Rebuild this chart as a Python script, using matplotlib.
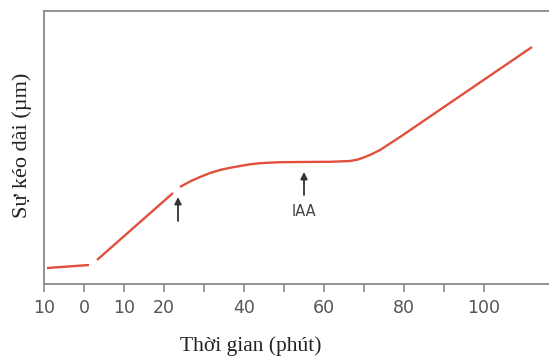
import matplotlib
matplotlib.use("Agg")
import matplotlib.pyplot as plt

# Growth curve (x in minutes, y in arbitrary units)
seg1_x = [-9.25, 1.25]
seg1_y = [1.6, 1.9]

seg2_x = [3.25, 22.25]
seg2_y = [2.4, 9.1]

seg3_x = [24.0, 26.5, 29.0, 31.5, 34.0, 36.5, 39.0, 41.5, 44.0, 49.0, 54.0,
          61.5, 66.5, 68.5, 70.25, 72.0, 74.0, 76.5, 79.0, 112.0]
seg3_y = [9.7, 10.25, 10.7, 11.1, 11.4, 11.62, 11.8, 11.97, 12.08, 12.18, 12.2,
          12.22, 12.3, 12.45, 12.7, 13.0, 13.4, 14.05, 14.7, 23.7]

# arrows: (x, tip y, base y)
arrow_x = [23.5, 55.0]
arrow_tip = [8.7, 11.2]
arrow_base = [6.3, 8.9]
iaa_label = "IAA"

xticks = [-10, 0, 10, 20, 30, 40, 50, 60, 70, 80, 90, 100]
xtick_labels = ["10", "0", "10", "20", "", "40", "", "60", "", "80", "", "100"]

RED = "#e0503c"
GREY = "#8a8a8a"

fig = plt.figure(figsize=(5.49, 3.58), dpi=100)
W, H = 549, 358
ax = fig.add_axes([44 / W, (H - 284) / H, (W - 44 + 2) / W, (284 - 11) / H])

for xs, ys in [(seg1_x, seg1_y), (seg2_x, seg2_y), (seg3_x, seg3_y)]:
    ax.plot(xs, ys, color=RED, lw=1.7, solid_capstyle="butt")

for x, tip, base in zip(arrow_x, arrow_tip, arrow_base):
    ax.annotate("", xy=(x, tip), xytext=(x, base),
                arrowprops=dict(arrowstyle="-|>", color="#333333", lw=1.3,
                                mutation_scale=10, shrinkA=0, shrinkB=0))
ax.text(arrow_x[1], 7.3, iaa_label, ha="center", va="center", fontsize=10.5,
        color="#444444", family=["Liberation Sans Narrow", "DejaVu Sans"])

ax.set_xlim(-10, -10 + (W - 44 + 2) / 4)
ax.set_ylim(0, 27.3)

ax.set_xticks(xticks)
ax.set_xticklabels(xtick_labels, fontsize=12.5, color="#555555",
                   family=["Liberation Sans Narrow", "DejaVu Sans"])
ax.set_yticks([])
ax.tick_params(axis="x", direction="out", length=6, width=1.2, color=GREY, pad=5)

for side in ["left", "bottom", "top"]:
    ax.spines[side].set_color(GREY)
    ax.spines[side].set_linewidth(1.3)
ax.spines["right"].set_visible(False)

ax.set_xlabel("Thời gian (phút)", fontsize=15.5, family="Liberation Serif",
              color="#222222", va="center")
ax.xaxis.set_label_coords((251 - 44) / (W - 44 + 2), -(346 - 284) / (284 - 11))
ax.set_ylabel("Sự kéo dài (µm)", fontsize=16, family="Liberation Serif",
              color="#222222", va="center")
ax.yaxis.set_label_coords(-(44 - 22) / (W - 44 + 2), (284 - 145) / (284 - 11))

fig.savefig("out.png", dpi=100)
